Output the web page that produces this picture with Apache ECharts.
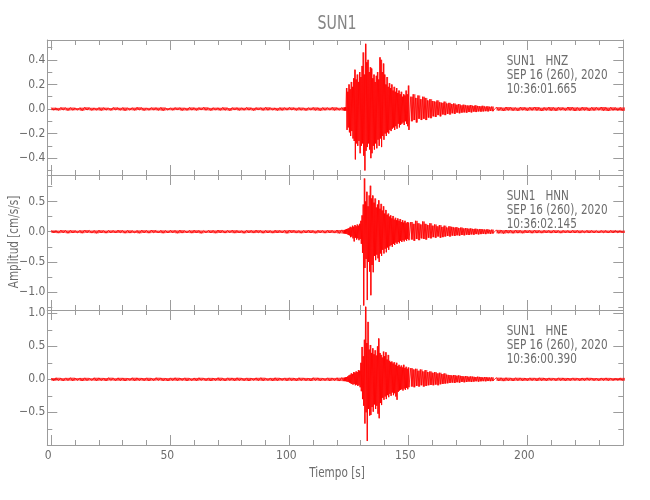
<!DOCTYPE html>
<html><head><meta charset="utf-8">
<script src="https://cdn.jsdelivr.net/npm/echarts@6/dist/echarts.min.js"></script>
<style>html,body{margin:0;padding:0;background:#fff}#c{width:650px;height:500px}</style>
</head><body><div id="c"></div>
<script>
// ---------------- data ----------------
const station = 'SUN1';
const channels = ['HNZ', 'HNN', 'HNE'];
const dateLabel = 'SEP 16 (260), 2020';
const startTimes = ['10:36:01.665', '10:36:02.145', '10:36:00.390'];
const xTitle = 'Tiempo [s]';
const yTitle = 'Amplitud [cm/s/s]';

const xMajorTicks = [0, 50, 100, 150, 200];
const xMinorTicks = [10, 20, 30, 40, 60, 70, 80, 90, 110, 120, 130, 140, 160, 170, 180, 190, 210, 220, 230];

const hnzMajorTicks = [-0.4, -0.2, 0, 0.2, 0.4];
const hnzMinorTicks = [-0.5, -0.3, -0.1, 0.1, 0.3, 0.5];
const hnnMajorTicks = [-1.0, -0.5, 0, 0.5];
const hnnMinorTicks = [-1.25, -0.75, -0.25, 0.25, 0.75];
const hneMajorTicks = [-0.5, 0, 0.5, 1.0];
const hneMinorTicks = [-0.75, -0.25, 0.25, 0.75];

// axis extents
const xRange = [-1.68, 240.3];
const hnzRange = [-0.537, 0.561];
const hnnRange = [-1.294, 0.937];
const hneRange = [-0.995, 1.05];

// sample bins: [start time (s), bin width (s), number of bins]
const sampleSegments = [[0, 2, 62], [123, 0.5, 55], [151, 1, 35], [187, 2, 27]];

// per-bin maximum and minimum amplitude (cm/s/s)
const hnzMax = [
  0.011,0.009,0.013,0.010,0.012,0.008,0.011,0.014,0.010,0.009,
  0.012,0.011,0.008,0.013,0.010,0.012,0.009,0.011,0.014,0.010,
  0.009,0.012,0.011,0.013,0.008,0.010,0.012,0.011,0.009,0.013,
  0.010,0.012,0.014,0.009,0.011,0.010,0.013,0.008,0.012,0.011,
  0.010,0.013,0.009,0.012,0.011,0.014,0.010,0.009,0.012,0.011,
  0.013,0.010,0.012,0.009,0.011,0.013,0.010,0.012,0.011,0.014,
  0.010,0.012,
  0.012,0.015,0.17,0.14,0.20,0.16,0.22,0.18,0.25,0.32,
  0.24,0.28,0.22,0.30,0.26,0.35,0.46,0.28,0.53,0.38,
  0.40,0.30,0.34,0.33,0.25,0.28,0.22,0.27,0.30,0.24,
  0.42,0.40,0.30,0.37,0.28,0.20,0.26,0.18,0.21,0.17,
  0.20,0.15,0.18,0.14,0.17,0.13,0.15,0.12,0.14,0.10,
  0.12,0.11,0.15,0.12,0.19,
  0.10,0.12,0.09,0.11,0.08,0.10,0.09,0.07,0.08,0.065,
  0.06,0.07,0.055,0.05,0.06,0.045,0.05,0.04,0.045,0.035,
  0.04,0.03,0.035,0.03,0.028,0.032,0.025,0.03,0.024,0.022,
  0.026,0.02,0.022,0.018,0.02,
  0.015,0.012,0.016,0.013,0.011,0.015,0.012,0.014,0.016,0.011,
  0.013,0.015,0.012,0.014,0.011,0.016,0.013,0.012,0.015,0.011,
  0.014,0.013,0.016,0.012,0.014,0.011,0.013
];
const hnzMin = [
  -0.010,-0.012,-0.009,-0.013,-0.011,-0.010,-0.014,-0.009,-0.012,-0.011,
  -0.013,-0.010,-0.012,-0.009,-0.011,-0.014,-0.010,-0.012,-0.009,-0.013,
  -0.011,-0.010,-0.012,-0.014,-0.010,-0.011,-0.009,-0.013,-0.012,-0.010,
  -0.012,-0.009,-0.011,-0.013,-0.010,-0.012,-0.011,-0.014,-0.009,-0.012,
  -0.011,-0.010,-0.013,-0.009,-0.012,-0.011,-0.010,-0.013,-0.012,-0.010,
  -0.009,-0.012,-0.011,-0.013,-0.010,-0.012,-0.014,-0.011,-0.010,-0.012,
  -0.011,-0.013,
  -0.012,-0.014,-0.17,-0.15,-0.19,-0.22,-0.18,-0.24,-0.26,-0.41,
  -0.28,-0.30,-0.26,-0.36,-0.30,-0.28,-0.38,-0.50,-0.34,-0.31,
  -0.28,-0.33,-0.40,-0.36,-0.30,-0.33,-0.28,-0.32,-0.25,-0.30,
  -0.24,-0.31,-0.22,-0.25,-0.20,-0.22,-0.19,-0.20,-0.17,-0.18,
  -0.16,-0.15,-0.17,-0.14,-0.16,-0.12,-0.15,-0.13,-0.12,-0.11,
  -0.13,-0.10,-0.12,-0.14,-0.17,
  -0.10,-0.09,-0.11,-0.08,-0.09,-0.08,-0.09,-0.07,-0.075,-0.06,
  -0.065,-0.05,-0.06,-0.045,-0.05,-0.04,-0.045,-0.035,-0.04,-0.03,
  -0.035,-0.03,-0.028,-0.03,-0.025,-0.028,-0.022,-0.025,-0.02,-0.022,
  -0.02,-0.018,-0.02,-0.016,-0.018,
  -0.013,-0.016,-0.012,-0.014,-0.015,-0.011,-0.014,-0.012,-0.013,-0.016,
  -0.012,-0.014,-0.015,-0.011,-0.013,-0.012,-0.016,-0.014,-0.012,-0.015,
  -0.013,-0.011,-0.014,-0.016,-0.012,-0.013,-0.015
];
const hnnMax = [
  0.022,0.019,0.026,0.021,0.024,0.018,0.023,0.027,0.020,0.022,
  0.025,0.019,0.023,0.021,0.026,0.020,0.024,0.018,0.022,0.025,
  0.021,0.027,0.019,0.023,0.020,0.024,0.022,0.026,0.018,0.023,
  0.025,0.021,0.019,0.024,0.022,0.027,0.020,0.023,0.025,0.021,
  0.018,0.024,0.022,0.026,0.020,0.023,0.019,0.025,0.021,0.024,
  0.027,0.022,0.020,0.023,0.025,0.019,0.024,0.021,0.026,0.022,
  0.028,0.030,
  0.025,0.035,0.045,0.05,0.06,0.08,0.07,0.10,0.08,0.11,
  0.09,0.12,0.10,0.13,0.18,0.27,0.45,0.88,0.50,0.66,
  0.42,0.60,0.76,0.55,0.60,0.48,0.55,0.40,0.45,0.52,
  0.38,0.46,0.35,0.42,0.30,0.36,0.28,0.30,0.25,0.27,
  0.22,0.26,0.20,0.23,0.19,0.22,0.18,0.21,0.16,0.19,
  0.15,0.18,0.14,0.16,0.15,
  0.16,0.13,0.18,0.14,0.12,0.17,0.13,0.11,0.14,0.10,
  0.12,0.09,0.11,0.08,0.10,0.07,0.09,0.08,0.07,0.075,
  0.06,0.07,0.055,0.06,0.05,0.055,0.045,0.05,0.04,0.045,
  0.04,0.035,0.04,0.03,0.035,
  0.030,0.026,0.028,0.024,0.027,0.022,0.025,0.023,0.026,0.021,
  0.024,0.022,0.025,0.020,0.023,0.021,0.024,0.022,0.020,0.023,
  0.021,0.019,0.022,0.020,0.023,0.021,0.019
];
const hnnMin = [
  -0.021,-0.024,-0.019,-0.026,-0.022,-0.020,-0.025,-0.018,-0.023,-0.027,
  -0.021,-0.024,-0.020,-0.022,-0.019,-0.025,-0.023,-0.021,-0.026,-0.020,
  -0.024,-0.018,-0.022,-0.025,-0.021,-0.019,-0.026,-0.023,-0.020,-0.024,
  -0.022,-0.027,-0.019,-0.021,-0.025,-0.020,-0.023,-0.018,-0.024,-0.022,
  -0.026,-0.020,-0.023,-0.019,-0.025,-0.021,-0.024,-0.022,-0.020,-0.027,
  -0.019,-0.023,-0.025,-0.021,-0.022,-0.026,-0.020,-0.024,-0.021,-0.023,
  -0.028,-0.031,
  -0.025,-0.035,-0.04,-0.055,-0.06,-0.09,-0.08,-0.11,-0.16,-0.10,
  -0.13,-0.11,-0.14,-0.12,-0.20,-0.35,-1.22,-0.60,-0.45,-1.13,
  -0.50,-0.66,-1.05,-0.55,-0.67,-0.40,-0.47,-0.38,-0.44,-0.50,
  -0.36,-0.40,-0.30,-0.36,-0.28,-0.34,-0.26,-0.30,-0.24,-0.22,
  -0.25,-0.20,-0.22,-0.18,-0.20,-0.17,-0.19,-0.15,-0.17,-0.14,
  -0.16,-0.13,-0.15,-0.12,-0.14,
  -0.13,-0.15,-0.12,-0.14,-0.11,-0.12,-0.13,-0.10,-0.11,-0.09,
  -0.10,-0.08,-0.10,-0.09,-0.08,-0.07,-0.08,-0.065,-0.07,-0.06,
  -0.065,-0.055,-0.06,-0.05,-0.055,-0.045,-0.05,-0.04,-0.045,-0.04,
  -0.035,-0.04,-0.03,-0.035,-0.03,
  -0.028,-0.031,-0.025,-0.027,-0.024,-0.026,-0.022,-0.025,-0.023,-0.024,
  -0.021,-0.023,-0.022,-0.024,-0.020,-0.022,-0.021,-0.023,-0.019,-0.022,
  -0.020,-0.021,-0.019,-0.022,-0.020,-0.018,-0.021
];
const hneMax = [
  0.020,0.024,0.018,0.022,0.025,0.019,0.021,0.023,0.017,0.024,
  0.022,0.020,0.025,0.018,0.023,0.021,0.019,0.024,0.022,0.020,
  0.023,0.018,0.025,0.021,0.019,0.022,0.024,0.020,0.023,0.017,
  0.021,0.024,0.019,0.022,0.020,0.025,0.018,0.023,0.021,0.024,
  0.019,0.022,0.020,0.023,0.025,0.018,0.021,0.024,0.020,0.022,
  0.023,0.019,0.024,0.021,0.020,0.025,0.022,0.019,0.023,0.021,
  0.024,0.026,
  0.022,0.03,0.035,0.045,0.06,0.07,0.09,0.08,0.11,0.10,
  0.12,0.11,0.14,0.13,0.25,0.49,0.35,0.60,1.10,0.55,
  0.87,0.45,0.52,0.40,0.47,0.38,0.44,0.36,0.50,0.62,
  0.40,0.37,0.33,0.42,0.35,0.41,0.30,0.37,0.28,0.26,
  0.27,0.24,0.26,0.22,0.25,0.20,0.22,0.19,0.21,0.18,
  0.22,0.17,0.19,0.16,0.18,
  0.17,0.15,0.16,0.13,0.15,0.12,0.14,0.11,0.12,0.10,
  0.11,0.09,0.10,0.08,0.09,0.07,0.065,0.06,0.065,0.055,
  0.06,0.05,0.045,0.05,0.04,0.045,0.04,0.035,0.04,0.035,
  0.03,0.035,0.03,0.028,0.03,
  0.026,0.023,0.025,0.021,0.024,0.022,0.020,0.023,0.021,0.024,
  0.020,0.022,0.019,0.023,0.021,0.020,0.022,0.019,0.021,0.023,
  0.020,0.018,0.021,0.022,0.019,0.020,0.022
];
const hneMin = [
  -0.022,-0.019,-0.024,-0.020,-0.023,-0.018,-0.025,-0.021,-0.019,-0.023,
  -0.020,-0.024,-0.018,-0.022,-0.021,-0.025,-0.019,-0.023,-0.020,-0.022,
  -0.024,-0.021,-0.018,-0.023,-0.025,-0.020,-0.022,-0.019,-0.024,-0.021,
  -0.023,-0.018,-0.022,-0.025,-0.020,-0.021,-0.024,-0.019,-0.023,-0.020,
  -0.022,-0.025,-0.018,-0.021,-0.023,-0.020,-0.024,-0.022,-0.019,-0.023,
  -0.021,-0.024,-0.020,-0.022,-0.025,-0.019,-0.023,-0.021,-0.024,-0.020,
  -0.026,-0.028,
  -0.021,-0.028,-0.035,-0.04,-0.05,-0.06,-0.07,-0.08,-0.07,-0.09,
  -0.08,-0.10,-0.09,-0.12,-0.18,-0.30,-0.40,-0.67,-0.50,-0.935,
  -0.45,-0.55,-0.54,-0.42,-0.49,-0.38,-0.45,-0.40,-0.52,-0.59,
  -0.36,-0.39,-0.28,-0.31,-0.26,-0.30,-0.24,-0.27,-0.22,-0.25,
  -0.20,-0.24,-0.21,-0.26,-0.31,-0.19,-0.17,-0.16,-0.15,-0.17,
  -0.14,-0.16,-0.13,-0.15,-0.12,
  -0.11,-0.12,-0.10,-0.11,-0.09,-0.11,-0.10,-0.09,-0.085,-0.09,
  -0.08,-0.09,-0.075,-0.07,-0.065,-0.06,-0.055,-0.05,-0.055,-0.045,
  -0.05,-0.04,-0.045,-0.04,-0.035,-0.04,-0.035,-0.03,-0.035,-0.03,
  -0.028,-0.03,-0.026,-0.028,-0.025,
  -0.024,-0.027,-0.022,-0.025,-0.021,-0.023,-0.022,-0.020,-0.024,-0.021,
  -0.023,-0.019,-0.022,-0.020,-0.023,-0.021,-0.019,-0.022,-0.020,-0.018,
  -0.021,-0.022,-0.019,-0.021,-0.020,-0.018,-0.021
];

// ---------------- build ----------------
function buildBins(maxArr, minArr) {
  const bins = [];
  let k = 0;
  sampleSegments.forEach(([start, step, n]) => {
    for (let i = 0; i < n; i++) {
      bins.push([start + i * step, step, maxArr[k], minArr[k]]);
      k++;
    }
  });
  if (k !== maxArr.length || k !== minArr.length) console.warn('length mismatch', k, maxArr.length, minArr.length);
  return bins;
}
function buildTrace(bins) {
  const pts = [];
  bins.forEach(([t, w, hi, lo]) => { pts.push([t, hi]); pts.push([t + w / 2, lo]); });
  return pts;
}

const panelData = [
  { max: hnzMax, min: hnzMin, range: hnzRange, major: hnzMajorTicks, minor: hnzMinorTicks },
  { max: hnnMax, min: hnnMin, range: hnnRange, major: hnnMajorTicks, minor: hnnMinorTicks },
  { max: hneMax, min: hneMin, range: hneRange, major: hneMajorTicks, minor: hneMinorTicks }
];

// layout (pixels)
const L = { left: 47.3, width: 576, tops: [40, 175, 310], height: 135 };
const axisColor = '#9c9c9c';
const textColor = '#6c6c6c';
const FONT = '"Liberation Sans Narrow","DejaVu Sans Condensed",sans-serif';
const SX = 0.83; // horizontal squeeze for the narrow plot lettering

function fmtY(v) {
  const s = Math.abs(v).toFixed(1);
  return v < 0 ? '\u2212' + s : s;
}

const grids = [], xAxes = [], yAxes = [], series = [];
panelData.forEach((pd, p) => {
  [false, true].forEach(major => {
    const gi = grids.length;
    grids.push({ left: L.left, top: L.tops[p], width: L.width, height: L.height, show: false });
    ['bottom', 'top'].forEach(pos => {
      xAxes.push({
        type: 'value', gridIndex: gi, position: pos, min: xRange[0], max: xRange[1],
        axisLine: { show: !major, onZero: false, lineStyle: { color: axisColor, width: 1 } },
        axisTick: { show: true, inside: true, length: major ? 10 : 5,
          customValues: major ? xMajorTicks : xMinorTicks, lineStyle: { color: axisColor, width: 1 } },
        axisLabel: { show: major && pos === 'bottom' && p === 2, customValues: xMajorTicks,
          color: textColor, fontSize: 12, fontFamily: FONT, margin: 5, padding: [0, 6, 0, 0],
          formatter: v => String(v) },
        splitLine: { show: false }
      });
    });
    ['left', 'right'].forEach(pos => {
      yAxes.push({
        type: 'value', gridIndex: gi, position: pos, min: pd.range[0], max: pd.range[1],
        axisLine: { show: !major, onZero: false, lineStyle: { color: axisColor, width: 1 } },
        axisTick: { show: true, inside: true, length: major ? 10 : 5,
          customValues: major ? pd.major : pd.minor, lineStyle: { color: axisColor, width: 1 } },
        axisLabel: { show: major && pos === 'left', customValues: pd.major,
          color: textColor, fontSize: 12, fontFamily: FONT, margin: 2, formatter: fmtY },
        splitLine: { show: false }
      });
    });
  });
  const bins = buildBins(pd.max, pd.min);
  series.push({
    type: 'custom', coordinateSystem: 'cartesian2d', xAxisIndex: p * 4, yAxisIndex: p * 4,
    data: bins, encode: { x: [0], y: [2, 3] }, clip: false, silent: true, z: 2,
    renderItem: (params, api) => {
      const a = api.coord([api.value(0), api.value(2)]);
      const b = api.coord([api.value(0) + api.value(1), api.value(3)]);
      return { type: 'rect', shape: { x: a[0], y: a[1], width: b[0] - a[0], height: b[1] - a[1] },
        style: { fill: 'rgba(255,0,0,0.7)' } };
    }
  });
  series.push({
    type: 'line', xAxisIndex: p * 4, yAxisIndex: p * 4,
    data: buildTrace(bins), showSymbol: false, symbol: 'none',
    lineStyle: { color: '#ff0000', width: 0.8 }, clip: false, silent: true,
    sampling: null, z: 3
  });
});

function txt(x, y, text, size, color, align, extra) {
  return Object.assign({ type: 'text', x: x, y: y, scaleX: SX,
    style: { text: text, fill: color, fontSize: size, fontFamily: FONT,
      align: align, verticalAlign: 'middle', textAlign: align, textVerticalAlign: 'middle' } }, extra || {});
}
const graphics = [
  txt(337, 24, station, 19, '#858585', 'center'),
  txt(337, 473, xTitle, 14, textColor, 'center'),
  txt(14, 242, yTitle, 14, textColor, 'center', { rotation: Math.PI / 2 })
];
channels.forEach((ch, p) => {
  const lines = [station + '   ' + ch, dateLabel, startTimes[p]];
  const offs = [21.5, 35.5, 49.5];
  lines.forEach((t, j) => graphics.push(txt(506.7, L.tops[p] + offs[j], t, 14, textColor, 'left')));
});

const chart = echarts.init(document.getElementById('c'), null, { renderer: 'canvas' });
chart.setOption({
  animation: false,
  backgroundColor: '#ffffff',
  grid: grids, xAxis: xAxes, yAxis: yAxes, series: series,
  graphic: { elements: graphics }
});
</script></body></html>
